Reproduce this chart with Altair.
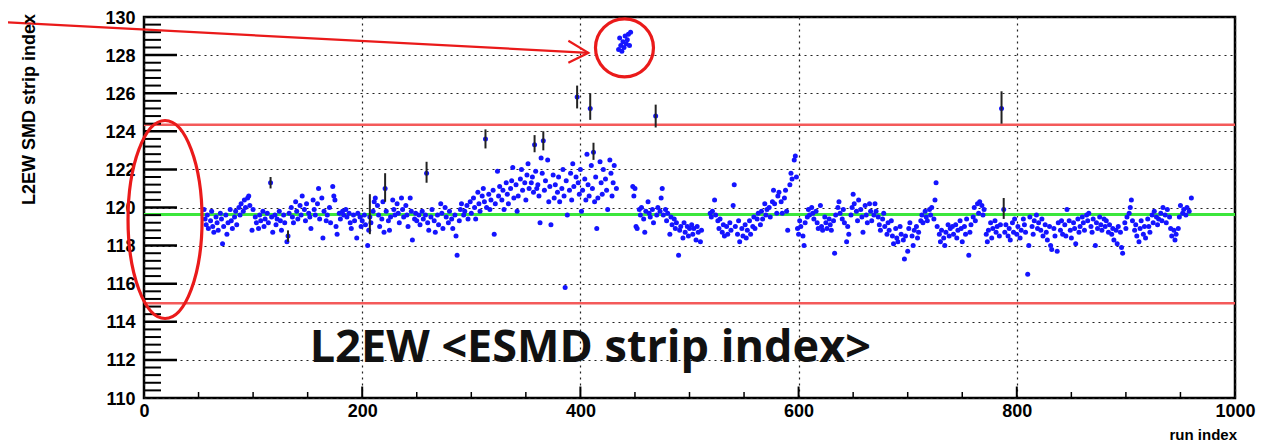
import altair as alt
import pandas as pd

# ---- data: (run index, <strip index>) ----
seg_a = [(55,119.9),(56,119.4),(57,119.1),(58,119.6),(59,118.9),(61,119.3),(62,119.8),(63,119.0),(64,118.7),
         (66,119.5),(67,119.2),(68,118.8),(70,119.7),(71,119.4),(72,118.1),(73,119.0),(75,119.6),(76,118.6),
         (77,119.2),(79,119.9),(80,119.3),(81,118.9),(83,119.5),(84,119.8),(85,119.1),(87,120.0),(88,119.6),
         (89,120.2),(91,119.8),(92,120.4),(93,120.0),(95,120.5),(96,120.6),(97,120.1),(99,118.8),(100,119.9)]
seg_b = [(102,119.5),(103,119.2),(105,118.9),(106,119.6),(107,119.3),(109,119.8),(110,119.0),(111,119.4),
         (113,119.7),(114,119.2),(116,121.3),(117,119.5),(118,118.7),(120,119.6),(121,119.1),(122,119.4),
         (124,119.8),(125,119.3),(126,118.8),(128,119.6),(129,119.2),(131,118.2),(132,118.5),(133,119.7),
         (135,120.0),(136,119.5),(137,119.2),(139,120.3),(140,119.8),(141,119.4),(143,120.1),(144,119.6),
         (145,120.6),(147,119.9),(148,119.3),(149,120.2),(151,119.7),(152,119.5),(153,118.9),(155,120.4),
         (156,119.9),(157,119.6),(159,120.2),(160,121.0),(161,119.4),(163,120.5),(164,118.4),(165,119.8),
         (167,119.3),(168,119.6),(170,120.0),(171,119.2),(173,121.1),(174,120.6),(175,120.4),(176,119.0),
         (177,118.6),(179,119.7),(180,119.4),(182,119.8),(183,119.6),(185,119.9),(186,119.5),(188,119.7),
         (189,119.2),(190,118.9),(192,119.6),(193,119.3),(195,118.4),(196,119.7),(198,119.5),(199,119.0),(200,119.3)]
seg_c = [(202,119.6),(203,119.1),(205,118.0),(206,118.8),(207,119.5),(208,119.2),(210,119.8),(211,120.3),
         (212,120.5),(214,120.1),(215,119.6),(216,119.0),(218,119.4),(219,120.3),(220,118.7),(221,121.0),
         (222,119.8),(224,119.3),(225,118.8),(226,119.5),(228,120.4),(229,119.9),(230,119.6),(232,120.2),
         (233,119.7),(234,119.2),(236,120.5),(237,119.9),(238,119.5),(240,120.1),(241,119.6),(242,119.0),
         (244,120.5),(245,119.8),(246,118.3),(248,119.4),(249,119.7),(250,119.3),(252,119.6),(253,119.1),
         (255,119.8),(256,119.4),(258,119.6),(259,121.8),(260,119.2),(261,118.8),(263,119.5),(264,119.9),
         (266,119.3),(267,118.7),(269,119.6),(270,119.1),(272,120.2),(273,119.7),(274,118.9),(276,120.0),
         (277,119.5),(279,119.2),(280,119.8),(282,119.4),(283,118.9),(285,119.6),(286,118.5),(287,117.5),
         (289,119.3),(290,119.9),(291,120.2),(293,119.6),(294,119.8),(296,120.1),(297,119.4),(299,120.3),(300,119.7)]
seg_d = [(302,120.5),(303,120.0),(304,119.4),(306,120.8),(307,120.2),(308,119.8),(310,120.6),(311,121.0),
         (312,120.3),(313,123.6),(314,120.0),(316,120.7),(317,119.9),(318,120.4),(320,120.9),(321,118.6),
         (322,120.2),(324,121.9),(325,120.6),(326,121.1),(328,120.4),(329,120.9),(330,119.9),(332,121.3),
         (333,120.7),(334,120.2),(336,121.0),(337,121.4),(338,122.1),(339,120.5),(341,121.2),(342,119.8),
         (343,120.6),(345,121.5),(346,122.0),(347,120.9),(349,121.3),(350,120.4),(351,121.7),(352,122.3),
         (353,121.0),(355,121.3),(356,121.6),(357,120.8),(358,123.3),(359,121.9),(360,121.0),(361,121.2),
         (362,120.6),(363,119.2),(364,122.6),(365,121.8),(366,123.5),(367,120.9),(368,121.4),(370,122.5),
         (371,120.3),(372,121.1),(373,119.1),(375,121.7),(376,120.5),(377,121.2),(379,120.8),(380,121.6),
         (381,120.3),(383,121.0),(384,122.0),(385,120.6),(386,115.8),(387,121.4),(388,119.6),(390,120.9),
         (391,121.8),(392,120.4),(393,122.3),(394,121.1),(396,121.6),(397,125.8),(398,121.3),(399,120.7),(400,122.0)]
seg_e = [(401,119.8),(402,120.9),(404,121.5),(405,120.4),(406,122.8),(407,121.2),(408,120.6),(409,125.2),
         (410,122.2),(411,121.0),(412,122.9),(413,120.3),(414,121.6),(415,118.9),(416,120.5),(418,122.4),
         (419,121.3),(420,120.7),(421,122.0),(423,121.5),(424,120.9),(425,119.9),(427,122.5),(428,121.8),
         (429,120.6),(430,121.3),(431,122.2),(433,121.0),
         (435,128.3),(436,128.9),(437,128.5),(438,128.2),(439,128.7),(440,128.4),(441,129.0),(442,128.6),
         (443,128.8),(444,129.1),(445,128.5),(446,129.2),
         (448,121.1),(449,120.6),(450,121.0),(451,119.0),(452,118.9)]
seg_f = [(454,119.9),(455,119.6),(456,120.0),(458,119.4),(459,118.7),(460,119.8),(462,120.3),(463,119.7),
         (464,119.5),(466,119.9),(467,119.2),(469,124.8),(470,119.6),(471,120.0),(473,119.8),(474,120.5),
         (475,121.0),(476,119.6),(478,119.9),(479,119.3),(480,119.7),(482,118.6),(483,119.5),(484,119.1),
         (486,119.4),(487,118.9),(488,119.2),(490,117.5),(491,118.8),(492,119.0),(494,118.4),(495,119.2),
         (496,118.7),(498,119.0),(499,118.5),(500,118.9),(502,119.1),(503,118.6),(504,118.9),(506,118.3),
         (507,119.0),(508,118.7),(510,118.2),(511,118.8),(519,119.7),(520,119.5),(521,119.8),(523,120.4),
         (524,119.6),(526,119.3),(527,118.9),(528,119.4),(530,118.7),(531,119.1),(532,118.5),(534,119.0),
         (535,118.6),(537,119.2),(538,118.8),(540,120.1),(541,121.2),(542,119.0),(544,118.6),(545,119.3),
         (546,118.2),(548,118.9),(549,118.5),(551,119.1),(552,118.4),(553,118.8),(555,119.3),(556,118.6),
         (558,119.0),(559,119.5),(560,118.9),(562,119.4),(563,119.7),(565,119.1),(566,119.8),(567,119.4),
         (569,120.2),(570,119.6),(571,119.9),(573,120.0),(574,119.5),(576,120.3),(577,120.9),(578,120.2),
         (580,119.7),(581,120.6),(582,120.8),(584,120.3),(585,119.7),(587,120.5),(588,120.9),(589,119.8),
         (590,118.8),(592,121.2),(593,121.8),(594,121.5),(596,122.5),(597,122.7),(598,121.6),(599,118.9),(600,118.6)]
seg_g = [(601,119.3),(602,119.0),(604,118.5),(605,118.0),(606,119.2),(608,119.5),(609,119.9),(610,119.6),
         (612,120.0),(613,119.7),(614,119.4),(616,119.8),(617,119.2),(618,118.9),(620,120.1),(621,119.0),
         (622,118.8),(624,119.5),(625,119.2),(626,118.9),(628,119.4),(629,119.1),(630,118.8),(632,119.3),
         (633,117.6),(634,119.6),(636,120.0),(637,120.3),(638,119.7),(640,119.4),(641,119.9),(642,119.2),
         (644,118.2),(645,119.0),(646,118.6),(648,119.6),(649,120.0),(650,120.7),(651,120.2),(653,119.8),
         (654,119.3),(655,120.4),(657,119.9),(658,119.5),(659,118.7),(661,120.1),(662,119.6),(663,119.2),
         (665,120.2),(666,119.8),(667,119.3),(669,119.6),(670,120.2),(671,119.8),(673,119.5),(674,119.1),
         (675,118.8),(677,119.4),(678,119.7),(679,119.0),(681,118.6),(682,119.2),(683,118.8),(685,119.3),
         (686,118.5),(687,118.1),(689,118.9),(690,118.4),(691,118.2),(693,119.0),(694,118.6),(696,118.3),
         (697,117.3),(698,118.5),(700,117.7)]
seg_h = [(701,118.9),(702,119.2),(704,118.5),(705,118.0),(706,118.8),(708,119.0),(709,118.4),(710,118.7),
         (712,119.3),(713,119.6),(714,119.2),(716,119.8),(717,119.5),(718,119.3),(720,119.9),(721,119.6),
         (722,120.0),(724,119.4),(725,120.4),(726,121.3),(727,119.0),(729,118.6),(730,118.2),(731,118.8),
         (733,118.4),(734,118.0),(735,118.7),(737,119.1),(738,118.5),(739,118.9),(741,119.0),(742,118.6),
         (744,119.1),(745,118.4),(746,118.8),(748,119.3),(749,118.9),(750,118.2),(752,119.0),(753,118.6),
         (754,119.4),(756,117.5),(757,118.7),(758,119.1),(760,119.5),(761,120.0),(762,119.3),(764,120.2),
         (765,119.7),(766,120.3),(768,120.1),(769,119.6),(770,119.9),(772,118.6),(773,118.2),(774,118.8),
         (776,119.2),(777,118.4),(778,118.9),(780,119.3),(781,118.7),(782,119.0),(784,118.5),(785,119.1),
         (786,125.2),(788,119.9),(789,118.7),(790,119.1),(792,118.5),(793,118.9),(794,118.3),(796,119.2),
         (797,118.7),(798,119.4),(800,118.6)]
seg_i = [(801,119.0),(803,118.4),(804,118.8),(806,119.4),(807,119.1),(808,118.7),(810,116.5),(811,118.0),
         (812,119.5),(814,119.0),(815,118.6),(816,119.3),(818,119.6),(819,118.9),(820,119.2),(822,118.8),
         (823,119.4),(824,118.5),(826,119.1),(827,118.7),(828,118.3),(830,119.0),(831,118.0),(832,117.8),
         (834,118.9),(835,118.5),(837,117.7),(838,119.2),(840,118.8),(841,119.3),(842,118.6),(844,119.1),
         (845,118.5),(846,119.9),(848,119.3),(849,118.8),(850,118.4),(852,119.2),(853,118.9),(854,118.1),
         (856,119.4),(857,118.7),(858,119.0),(860,119.5),(861,119.2),(862,118.8),(864,119.6),(865,119.3),
         (866,119.7),(868,119.0),(869,118.7),(870,119.4),(872,118.0),(873,119.2),(874,118.9),(876,119.5),
         (877,119.1),(878,118.8),(880,119.4),(881,119.0),(882,119.3),(884,118.7),(885,119.1),(887,118.6),
         (888,118.9),(889,118.3),(891,118.8),(892,118.1),(893,119.0),(895,118.7),(896,117.9),(897,117.6),
         (899,119.2),(900,118.9),(901,119.5),(903,119.7),(904,120.0),(905,120.4),(906,119.3),(908,118.8),
         (909,119.1),(910,118.5),(912,118.2),(913,118.9),(914,119.3),(916,118.6),(917,119.0),(918,118.4),
         (920,119.4),(921,119.0),(922,118.7),(924,119.6),(925,119.2),(926,119.8),(928,119.5),(929,119.1),
         (930,119.4),(932,119.7),(933,119.3),(934,120.0),(936,119.6),(937,119.2),(938,119.9),(940,119.5),
         (941,118.9),(942,118.5),(944,118.8),(945,118.3),(946,118.6),(948,118.9),(949,119.5),(950,120.1),
         (952,119.7),(953,119.9),(955,119.6),(956,120.0),(958,119.8),(960,120.5)]

# error bars (run, low, high)
err_bars = [(116,121.0,121.6),(132,118.2,118.8),(207,118.6,120.7),(221,120.3,121.8),(259,121.3,122.4),
            (313,123.1,124.1),(358,122.9,123.8),(366,123.0,124.0),(397,125.2,126.4),(409,124.6,126.0),
            (412,122.5,123.4),(469,124.2,125.4),(786,124.4,126.1),(788,119.4,120.5)]

limit_lines = [124.35, 114.97]
mean_line = [119.63]

x_major = [0, 200, 400, 600, 800, 1000]
x_minor = [50, 100, 150, 250, 300, 350, 450, 500, 550, 650, 700, 750, 850, 900, 950]
y_major = [110, 112, 114, 116, 118, 120, 122, 124, 126, 128, 130]
y_minor = [round(110 + 0.4 * k, 1) for k in range(1, 50) if k % 5 != 0]

# annotation anchors (data coordinates)
arrow_pts = [(-132.1, 129.74), (407.3, 128.12)]
ellipse_center = [(19.3, 119.37)]
circle_center = [(440.4, 128.38)]
big_label = [(152, 111.9, "L2EW <ESMD strip index>")]

W, H = 1091, 381
PT, PL = 9, 136
PB = 445 - 8 - PT - H

points = pd.DataFrame(seg_a + seg_b + seg_c + seg_d + seg_e + seg_f + seg_g + seg_h + seg_i,
                      columns=["run", "idx"])
errs = pd.DataFrame(err_bars, columns=["run", "lo", "hi"])

xs = alt.Scale(domain=[0, 1000], nice=False, zero=False)
ys = alt.Scale(domain=[110, 130], nice=False, zero=False)

label_font = "Liberation Sans"
x_axis = alt.Axis(values=x_major, title=None, grid=True, ticks=False, tickSize=0, domain=False, format="d",
                  labelFont=label_font, labelFontWeight="bold", labelFontSize=18, labelColor="black",
                  labelPadding=4, gridDash=[2, 4], gridColor="#222", gridWidth=1.2, labelFlush=False)
y_axis = alt.Axis(values=y_major, title=None, grid=True, ticks=False, tickSize=0, domain=False, format="d",
                  labelFont=label_font, labelFontWeight="bold", labelFontSize=18, labelColor="black",
                  labelPadding=9, labelOffset=1, gridDash=[2, 4], gridColor="#222", gridWidth=1.2,
                  labelFlush=False)

base_pts = alt.Chart(points).mark_circle(size=25, color="#1414ff", opacity=1).encode(
    x=alt.X("run:Q", scale=xs, axis=x_axis),
    y=alt.Y("idx:Q", scale=ys, axis=y_axis),
)

lim = alt.Chart(pd.DataFrame({"y": limit_lines})).mark_rule(color="#f45a5a", strokeWidth=2.5).encode(
    y=alt.Y("y:Q", scale=ys, axis=y_axis))
mean = alt.Chart(pd.DataFrame({"y": mean_line})).mark_rule(color="#3ce63c", strokeWidth=3).encode(
    y=alt.Y("y:Q", scale=ys, axis=y_axis))

ebars = alt.Chart(errs).mark_rule(color="#222", strokeWidth=2).encode(
    x=alt.X("run:Q", scale=xs, axis=x_axis),
    y=alt.Y("lo:Q", scale=ys, axis=y_axis),
    y2="hi:Q",
)

ytick_major = alt.Chart(pd.DataFrame({"y": y_major[1:-1]})).mark_rule(color="black", strokeWidth=2.5).encode(
    y=alt.Y("y:Q", scale=ys, axis=y_axis), x=alt.value(0), x2=alt.value(33))
ytick_minor = alt.Chart(pd.DataFrame({"y": y_minor})).mark_rule(color="black", strokeWidth=2).encode(
    y=alt.Y("y:Q", scale=ys, axis=y_axis), x=alt.value(0), x2=alt.value(17))
xtick_major = alt.Chart(pd.DataFrame({"x": x_major[1:-1]})).mark_rule(color="black", strokeWidth=2).encode(
    x=alt.X("x:Q", scale=xs, axis=x_axis), y=alt.value(H), y2=alt.value(H - 11.5))
xtick_minor = alt.Chart(pd.DataFrame({"x": x_minor})).mark_rule(color="black", strokeWidth=1.5).encode(
    x=alt.X("x:Q", scale=xs, axis=x_axis), y=alt.value(H), y2=alt.value(H - 6))

red = "#ea1a1a"
arrow_df = pd.DataFrame(arrow_pts, columns=["x", "y"])
arrow_line = alt.Chart(arrow_df).mark_line(color=red, strokeWidth=2.2).encode(
    x=alt.X("x:Q", scale=xs, axis=x_axis), y=alt.Y("y:Q", scale=ys, axis=y_axis))
arrow_head = alt.Chart(arrow_df.iloc[[1]]).mark_point(
    shape="M -1 -0.6 L 0 0 L -1 0.5", size=1600, filled=False, color=red, strokeWidth=2.2, opacity=1
).encode(x=alt.X("x:Q", scale=xs, axis=x_axis), y=alt.Y("y:Q", scale=ys, axis=y_axis))

ellipse = alt.Chart(pd.DataFrame(ellipse_center, columns=["x", "y"])).mark_point(
    shape="M 0 -1 A 0.374 1 0 1 1 0 1 A 0.374 1 0 1 1 0 -1 Z", size=39204, filled=False,
    color=red, strokeWidth=3.2, opacity=1
).encode(x=alt.X("x:Q", scale=xs, axis=x_axis), y=alt.Y("y:Q", scale=ys, axis=y_axis))

circle = alt.Chart(pd.DataFrame(circle_center, columns=["x", "y"])).mark_point(
    shape="circle", size=3364, filled=False, color=red, strokeWidth=3.2, opacity=1
).encode(x=alt.X("x:Q", scale=xs, axis=x_axis), y=alt.Y("y:Q", scale=ys, axis=y_axis))

big_text = alt.Chart(pd.DataFrame(big_label, columns=["x", "y", "t"])).mark_text(
    align="left", baseline="alphabetic", font="Open Sans", fontWeight="bold", fontSize=45, color="#111"
).encode(x=alt.X("x:Q", scale=xs, axis=x_axis), y=alt.Y("y:Q", scale=ys, axis=y_axis), text="t:N")

y_title = alt.Chart(pd.DataFrame({"t": ["L2EW SMD strip index"]})).mark_text(
    align="right", baseline="middle", angle=270, font=label_font, fontWeight="bold", fontSize=18, color="black"
).encode(x=alt.value(-114), y=alt.value(-3), text="t:N")

x_title = alt.Chart(pd.DataFrame({"t": ["run index"]})).mark_text(
    align="right", baseline="middle", font=label_font, fontWeight="bold", fontSize=15, color="black"
).encode(x=alt.value(W + 2), y=alt.value(H + 37), text="t:N")

chart = alt.layer(
    lim, mean, ytick_minor, ytick_major, xtick_minor, xtick_major,
    base_pts, ebars, arrow_line, arrow_head, ellipse, circle, big_text, y_title, x_title
).properties(
    width=W, height=H,
    autosize=alt.AutoSizeParams(type="none"),
    padding={"left": PL, "top": PT, "right": 1279 - 8 - PL - W - 8, "bottom": PB},
    background="white",
).configure_view(stroke="black", strokeWidth=2.5)

chart.save("out.html", embed_options={"renderer": "svg", "actions": False})
